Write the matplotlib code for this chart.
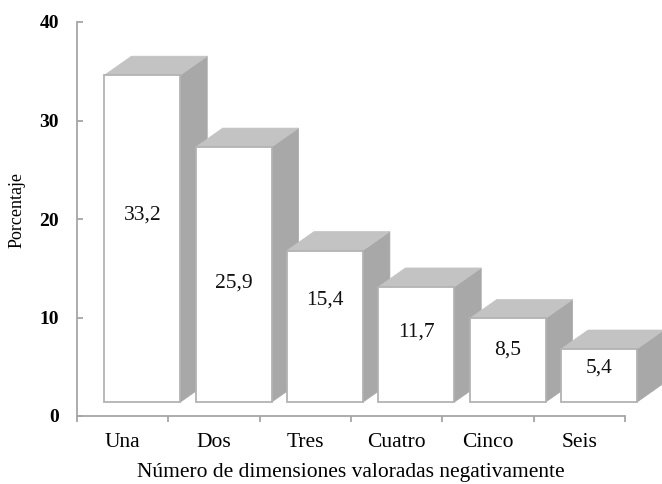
import matplotlib
matplotlib.use("Agg")
import matplotlib.pyplot as plt
from matplotlib.patches import Polygon

# Data
categories = ["Una", "Dos", "Tres", "Cuatro", "Cinco", "Seis"]
values = [33.2, 25.9, 15.4, 11.7, 8.5, 5.4]
value_labels = ["33,2", "25,9", "15,4", "11,7", "8,5", "5,4"]
y_ticks = [0, 10, 20, 30, 40]

# Layout of the pseudo-3D columns (axis units)
label_heights = [20.4, 13.5, 11.8, 8.5, 6.7, 4.9]
base = 1.4        # floor height of the front faces
left_off = 0.30   # gap from the category start to the front face
width = 0.83      # front face width
depth_x = 0.296   # oblique depth, horizontal
depth_y = 1.93    # oblique depth, vertical

FRONT = "white"
EDGE = "#b3b3b3"
TOP = "#c3c3c3"
SIDE = "#a8a8a8"
AXIS = "#a6a6a6"

plt.rcParams["font.family"] = ["Liberation Serif", "DejaVu Serif"]

fig = plt.figure(figsize=(6.62, 4.84), dpi=100)
ax = fig.add_axes([77 / 662, 68 / 484, 548 / 662, 394 / 484])
ax.set_xlim(0, 6)
ax.set_ylim(0, 40)

for i, v in enumerate(values):
    x0 = i + left_off
    x1 = x0 + width
    y0 = base
    y1 = base + v
    side = Polygon([(x1, y0), (x1 + depth_x, y0 + depth_y),
                    (x1 + depth_x, y1 + depth_y), (x1, y1)],
                   closed=True, facecolor=SIDE, edgecolor=SIDE, lw=0.5,
                   clip_on=False, zorder=2)
    top = Polygon([(x0, y1), (x0 + depth_x, y1 + depth_y),
                   (x1 + depth_x, y1 + depth_y), (x1, y1)],
                  closed=True, facecolor=TOP, edgecolor=TOP, lw=0.5,
                  clip_on=False, zorder=2)
    front = Polygon([(x0, y0), (x0, y1), (x1, y1), (x1, y0)],
                    closed=True, facecolor=FRONT, edgecolor=EDGE, lw=1.3,
                    clip_on=False, zorder=2)
    for p in (side, top, front):
        ax.add_patch(p)
    ax.text((x0 + x1) / 2, label_heights[i], value_labels[i],
            ha="center", va="center", fontsize=15.5, color="#111111", zorder=3)

for s in ("top", "right"):
    ax.spines[s].set_visible(False)
for s in ("left", "bottom"):
    ax.spines[s].set_color(AXIS)
    ax.spines[s].set_linewidth(1.3)

ax.set_yticks(y_ticks)
ax.set_yticklabels([str(t) for t in y_ticks], fontsize=14, fontweight="bold")
ax.tick_params(axis="y", direction="in", length=4.5, width=1.3,
               color=AXIS, pad=13)

ax.set_xticks(range(0, 7))
ax.set_xticklabels([])
ax.set_xticks([i + 0.5 for i in range(len(categories))], minor=True)
ax.set_xticklabels(categories, minor=True, fontsize=15.5)
ax.tick_params(axis="x", which="major", direction="out", length=4,
               width=1.3, color=AXIS)
ax.tick_params(axis="x", which="minor", length=0, pad=12)

ax.set_xlabel("Número de dimensiones valoradas negativamente",
              fontsize=15.5, labelpad=8)
ax.set_ylabel("Porcentaje", fontsize=13)
ax.yaxis.set_label_coords(-0.094, 0.523)

fig.savefig("out.png", dpi=100)
